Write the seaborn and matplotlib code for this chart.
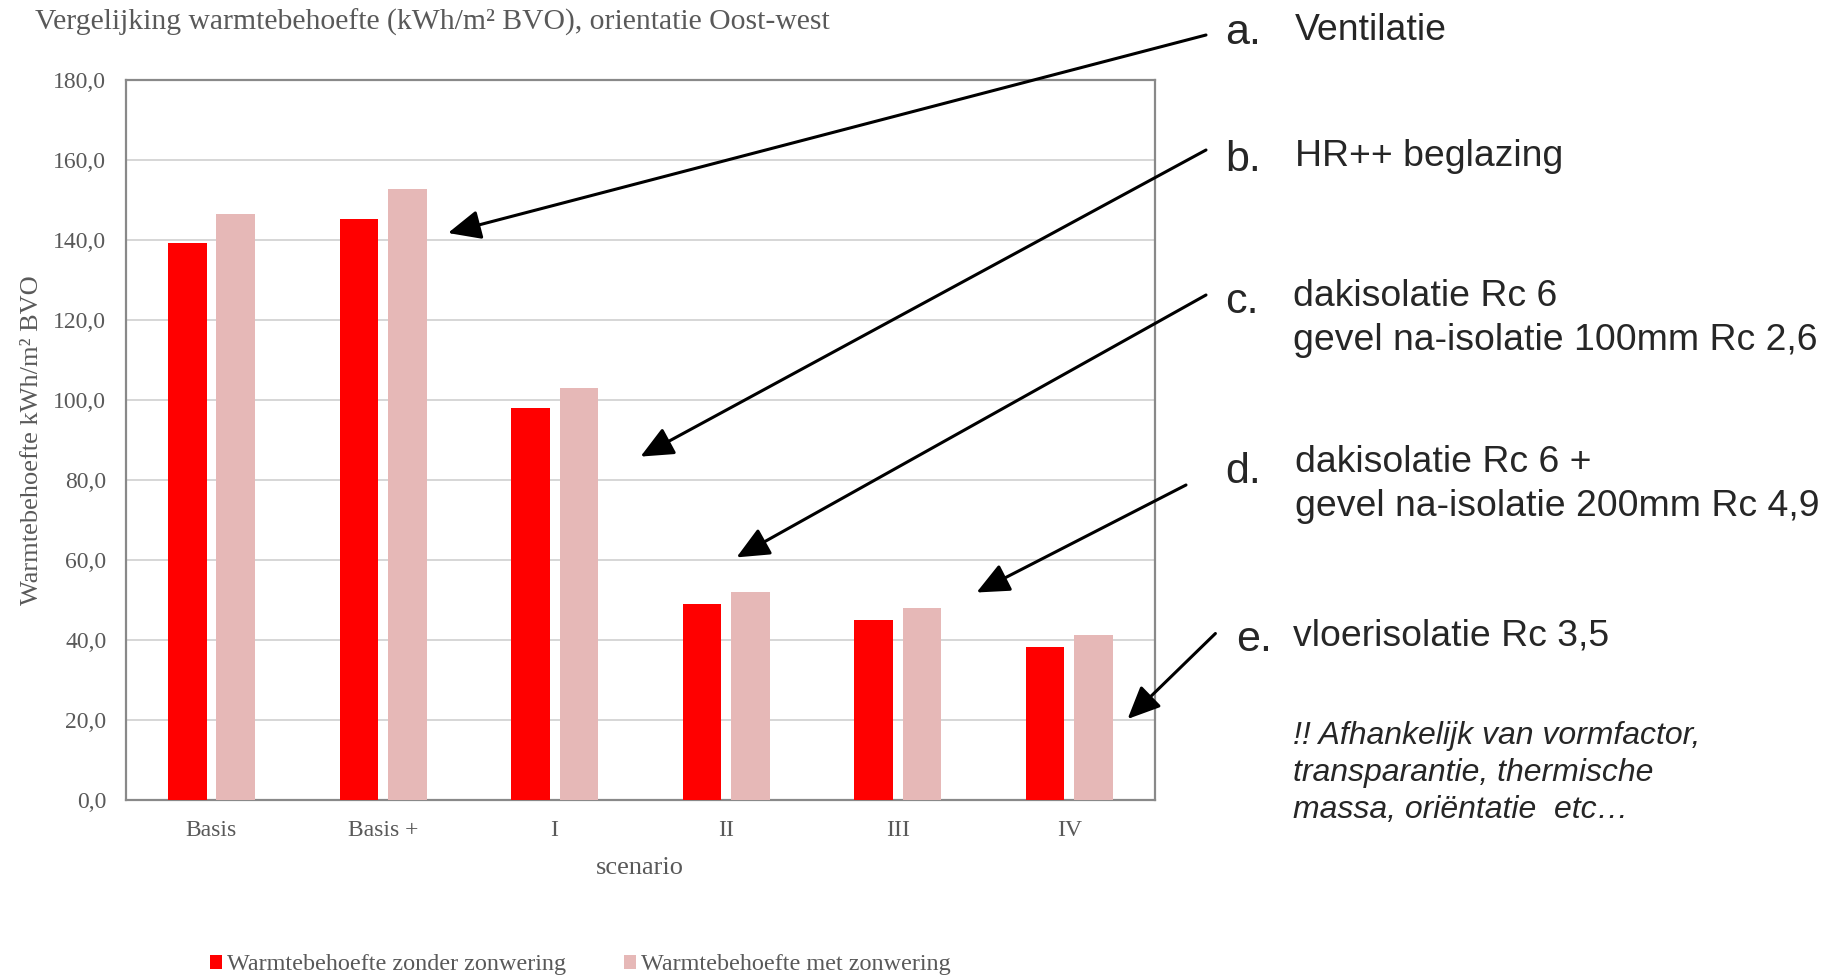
import numpy as np
import pandas as pd
import seaborn as sns
from matplotlib import pyplot as plt
from matplotlib.patches import FancyArrowPatch
from matplotlib.ticker import FuncFormatter

# data
scenarios = ['Basis', 'Basis +', 'I', 'II', 'III', 'IV']
zonder = [139.2, 145.2, 98.0, 49.1, 45.1, 38.2]
met = [146.5, 152.7, 103.1, 52.1, 47.9, 41.2]
series = ['Warmtebehoefte zonder zonwering', 'Warmtebehoefte met zonwering']

notes = [
    ('a.', ['Ventilatie']),
    ('b.', ['HR++ beglazing']),
    ('c.', ['dakisolatie Rc 6', 'gevel na-isolatie 100mm Rc 2,6']),
    ('d.', ['dakisolatie Rc 6 +', 'gevel na-isolatie 200mm Rc 4,9']),
    ('e.', ['vloerisolatie Rc 3,5']),
]
remark = '!! Afhankelijk van vormfactor,\ntransparantie, thermische\nmassa, oriëntatie  etc…'

df = pd.DataFrame({
    'scenario': scenarios * 2,
    'waarde': zonder + met,
    'serie': [series[0]] * len(scenarios) + [series[1]] * len(scenarios),
})

sns.set_style('white')
plt.rcParams['font.family'] = ['Liberation Serif', 'DejaVu Serif']

W, H = 1836, 976
fig = plt.figure(figsize=(W / 100, H / 100), dpi=100)
ax = fig.add_axes([125.7 / W, 1 - 800 / H, 1029.3 / W, 720 / H])

grey_txt = '#595959'
sns.barplot(data=df, x='scenario', y='waarde', hue='serie',
            palette=['#FF0000', '#E6B8B7'], width=0.565, gap=0.205,
            linewidth=0, saturation=1, ax=ax, zorder=3)

ax.set_ylim(0, 180)
ax.set_yticks(np.arange(0, 181, 20))
ax.yaxis.set_major_formatter(FuncFormatter(lambda v, p: f'{v:.1f}'.replace('.', ',')))
ax.grid(axis='y', color='#D6D6D6', lw=1.4, zorder=0)
ax.grid(axis='x', visible=False)
for s in ax.spines.values():
    s.set_color('#898989')
    s.set_linewidth(1.6)
ax.tick_params(axis='both', length=0, labelsize=17, labelcolor=grey_txt)
ax.tick_params(axis='y', pad=14)
ax.tick_params(axis='x', pad=14.5)

ax.set_xlabel('scenario', fontsize=19, color=grey_txt)
ax.xaxis.set_label_coords(0.4997, -0.079)
ax.set_ylabel('Warmtebehoefte kWh/m² BVO', fontsize=19, color=grey_txt)
ax.yaxis.set_label_coords(-0.0805, 0.5)

handles, labels = ax.get_legend_handles_labels()
ax.legend(handles, labels, loc='center', bbox_to_anchor=(0.316, 0.0115),
          bbox_transform=fig.transFigure, ncol=2, frameon=False,
          fontsize=17.4, labelcolor=grey_txt, handlelength=0.5, handleheight=0.5,
          handletextpad=0.2, columnspacing=2.4, borderpad=0, borderaxespad=0)

fig.text(35 / W, 1 - 22 / H, 'Vergelijking warmtebehoefte (kWh/m² BVO), orientatie Oost-west',
         fontsize=21.3, color=grey_txt, va='center', ha='left')


def fx(x):
    return x / W


def fy(y):
    return 1 - y / H


# annotation texts on the right
label_pos = [(1225, 33), (1225, 160), (1225, 302), (1225, 472), (1236, 640)]
text_pos = [(1295, [30]), (1295, [156]), (1293, [296, 341]), (1295, [462, 506]), (1293, [636])]
for (lab, lines), (lx, ly), (tx, tys) in zip(notes, label_pos, text_pos):
    fig.text(fx(lx), fy(ly), lab, fontsize=31, family='Liberation Sans', va='center', ha='left')
    for line, ty in zip(lines, tys):
        fig.text(fx(tx), fy(ty), line, fontsize=26.9, family='Liberation Sans', va='center', ha='left')

fig.text(fx(1293), fy(773), remark, fontsize=23, family='Liberation Sans', style='italic',
         va='center', ha='left', linespacing=1.3)

# arrows
arrows = [((1206, 35), (448, 233)),
          ((1206, 150), (640.5, 456.6)),
          ((1206, 295), (736.5, 557.4)),
          ((1186, 485), (976.5, 592.5)),
          ((1215.4, 633.5), (1127.6, 719))]
for (x0, y0), (x1, y1) in arrows:
    fig.add_artist(FancyArrowPatch((fx(x0), fy(y0)), (fx(x1), fy(y1)), transform=fig.transFigure,
                                   arrowstyle='-|>,head_length=1.0,head_width=0.45', mutation_scale=20,
                                   color='black', lw=2.2, shrinkA=0, shrinkB=0))

fig.savefig('out.png', dpi=100)
